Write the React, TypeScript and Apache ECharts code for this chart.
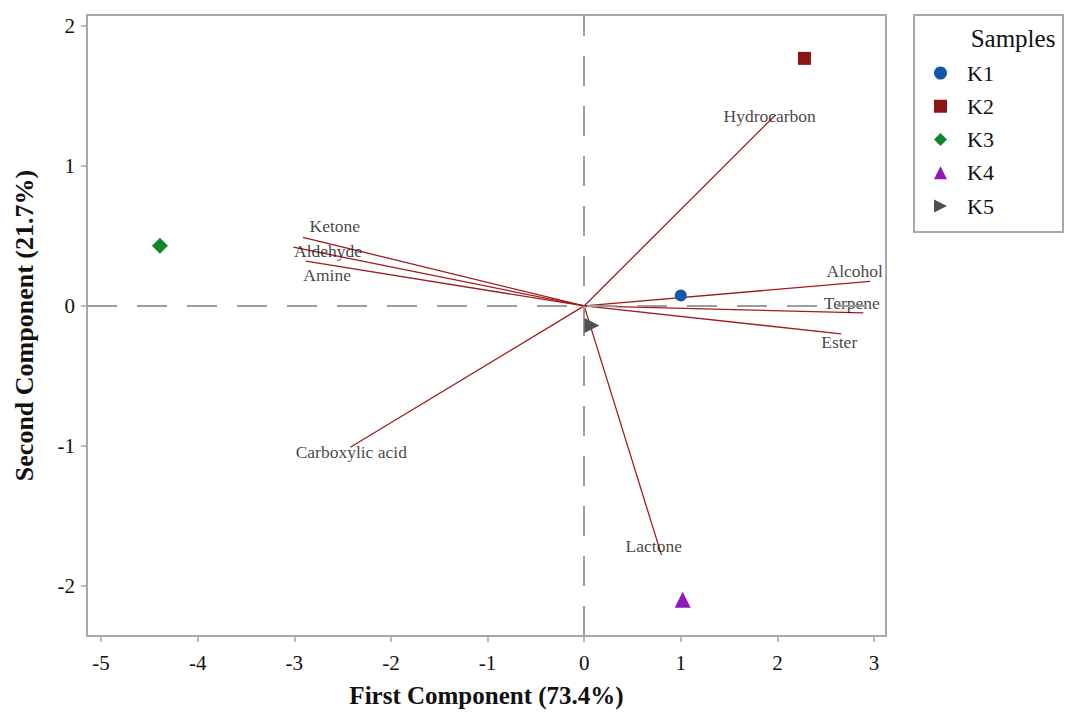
import React, { useEffect, useRef } from "react";
import * as echarts from "echarts";

const sampleNames = ["K1", "K2", "K3", "K4", "K5"];
const sampleX = [1.0, 2.28, -4.39, 1.02, 0.08];
const sampleY = [0.075, 1.77, 0.43, -2.1, -0.14];
const sampleColors = ["#1258a8", "#8e1414", "#12862a", "#9018b8", "#505050"];
const sampleSymbols = ["circle", "rect", "diamond", "triangle", "triangle"];
const sampleRotate = [0, 0, 0, 0, -90];
const sampleSizes = [12, 13, 16, 16, 15];
const legendIcons = ["circle", "rect", "diamond", "triangle", "path://M0,0L10,5L0,10Z"];

const vectorNames = ["Hydrocarbon", "Ketone", "Aldehyde", "Amine", "Alcohol", "Terpene", "Ester", "Carboxylic acid", "Lactone"];
const vectorX = [1.98, -2.91, -3.01, -2.88, 2.96, 2.89, 2.66, -2.42, 0.8];
const vectorY = [1.365, 0.49, 0.42, 0.32, 0.175, -0.05, -0.2, -1.01, -1.78];
const labelX = [1.92, -2.58, -2.65, -2.66, 2.8, 2.77, 2.64, -2.41, 0.72];
const labelY = [1.36, 0.57, 0.39, 0.22, 0.25, 0.02, -0.26, -1.045, -1.72];

const xTicks = [-5, -4, -3, -2, -1, 0, 1, 2, 3];
const yTicks = [-2, -1, 0, 1, 2];

const FONT = "'Liberation Serif', 'Times New Roman', serif";

export default function App() {
  const ref = useRef<HTMLDivElement>(null);
  useEffect(() => {
    const chart = echarts.init(ref.current!, null, { renderer: "svg" });
    const series: any[] = [];
    series.push({
      type: "line",
      data: [],
      silent: true,
      markLine: {
        silent: true,
        symbol: "none",
        label: { show: false },
        lineStyle: { color: "#9c9c9c", width: 2, type: [30, 20] },
        data: [{ xAxis: 0 }, { yAxis: 0 }],
      },
    });
    vectorNames.forEach((n, i) => {
      series.push({
        type: "line",
        name: "v_" + n,
        data: [[0, 0], [vectorX[i], vectorY[i]]],
        showSymbol: false,
        symbol: "none",
        lineStyle: { color: "#a11c1c", width: 1.3 },
        silent: true,
        z: 3,
      });
    });
    series.push({
      type: "scatter",
      name: "labels",
      symbolSize: 0,
      silent: true,
      data: vectorNames.map((n, i) => ({ value: [labelX[i], labelY[i]], name: n })),
      label: {
        show: true,
        position: "inside",
        formatter: (p: any) => p.name,
        color: "#111",
        fontFamily: FONT,
        fontSize: 17.5,
      },
      z: 4,
    });
    sampleNames.forEach((n, i) => {
      series.push({
        type: "scatter",
        name: n,
        data: [[sampleX[i], sampleY[i]]],
        symbol: sampleSymbols[i],
        symbolRotate: sampleRotate[i],
        symbolSize: sampleSizes[i],
        itemStyle: { color: sampleColors[i], opacity: 1 },
        z: 5,
      });
    });

    chart.setOption({
      animation: false,
      backgroundColor: "#fff",
      grid: {
        left: 87,
        top: 15,
        right: 181,
        bottom: 76,
        show: true,
        borderColor: "#a8a8a8",
        borderWidth: 2,
      },
      xAxis: {
        type: "value",
        min: -5.145,
        max: 3.124,
        name: "First Component (73.4%)",
        nameLocation: "middle",
        nameGap: 47,
        nameTextStyle: { fontFamily: FONT, fontSize: 25, fontWeight: "bold", color: "#111" },
        splitLine: { show: false },
        axisLine: { show: true, onZero: false, lineStyle: { color: "#a8a8a8", width: 2 } },
        axisTick: { show: true, customValues: xTicks, length: 6, lineStyle: { color: "#a8a8a8", width: 1.5 } },
        axisLabel: { customValues: xTicks, margin: 16, fontFamily: FONT, fontSize: 21, color: "#111" },
      },
      yAxis: {
        type: "value",
        min: -2.36,
        max: 2.08,
        name: "Second Component (21.7%)",
        nameLocation: "middle",
        nameGap: 50,
        nameTextStyle: { fontFamily: FONT, fontSize: 26, fontWeight: "bold", color: "#111" },
        splitLine: { show: false },
        axisLine: { show: true, onZero: false, lineStyle: { color: "#a8a8a8", width: 2 } },
        axisTick: { show: true, customValues: yTicks, length: 6, lineStyle: { color: "#a8a8a8", width: 1.5 } },
        axisLabel: { customValues: yTicks, margin: 12, fontFamily: FONT, fontSize: 21, color: "#111" },
      },
      legend: {
        data: sampleNames.map((n, i) => ({ name: n, icon: legendIcons[i] })),
        orient: "vertical",
        left: 914,
        top: 15,
        padding: [47, 10, 10, 20],
        itemWidth: 13,
        itemHeight: 13,
        itemGap: 11.25,
        textStyle: { fontFamily: FONT, fontSize: 22, color: "#111", padding: [0, 0, 0, 15] },
        selectedMode: false,
      },
      graphic: [
        {
          type: "rect",
          shape: { x: 914, y: 15, width: 149, height: 217 },
          style: { fill: "none", stroke: "#a8a8a8", lineWidth: 2 },
          silent: true,
        },
        {
          type: "text",
          x: 1013,
          y: 38,
          style: {
            text: "Samples",
            fontFamily: FONT,
            fontSize: 25,
            fill: "#111",
            textAlign: "center",
            textVerticalAlign: "middle",
          },
        },
      ],
      series,
    });
    return () => chart.dispose();
  }, []);
  return <div ref={ref} style={{ width: 1067, height: 713, position: "absolute", left: 0, top: 0 }} />;
}
